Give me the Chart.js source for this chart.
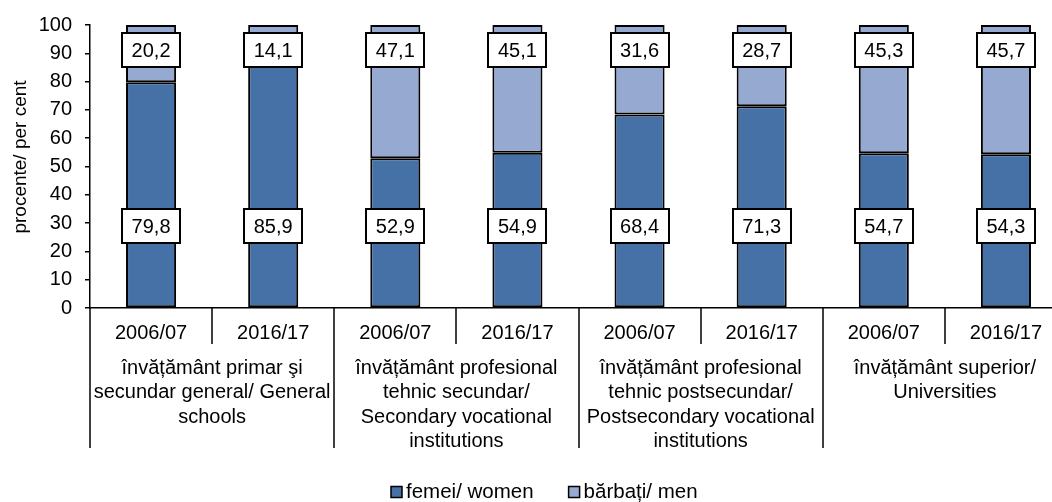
<!DOCTYPE html>
<html>
<head>
<meta charset="utf-8">
<script src="https://cdn.jsdelivr.net/npm/chart.js@4"></script>
<style>
  html, body { margin: 0; padding: 0; background: #fff; overflow: hidden; }
  #wrap { width: 1052px; height: 502px; overflow: hidden; position: relative; }
  #chart { display: block; }
</style>
</head>
<body>
<div id="wrap"><canvas id="chart" width="1068" height="502"></canvas></div>
<script>
const years = ["2006/07", "2016/17", "2006/07", "2016/17", "2006/07", "2016/17", "2006/07", "2016/17"];
const groupLabels = [
    ["învățământ primar şi", "secundar general/ General", "schools"],
    ["învățământ profesional", "tehnic secundar/", "Secondary vocational", "institutions"],
    ["învățământ profesional", "tehnic postsecundar/", "Postsecondary vocational", "institutions"],
    ["învățământ superior/", "Universities"],
];
const women = [79.8, 85.9, 52.9, 54.9, 68.4, 71.3, 54.7, 54.3];
const men = [20.2, 14.1, 47.1, 45.1, 31.6, 28.7, 45.3, 45.7];
const yTicks = [0, 10, 20, 30, 40, 50, 60, 70, 80, 90, 100];

const FONT = '"Liberation Sans", Arial, sans-serif';
const womenColor = "#4671a6";
const menColor = "#95a9d1";

function fmt(v) {
    return v.toFixed(1).replace(".", ",");
}

// boxed value labels, women low in the bar, men near the top
const boxLabels = {
    id: "boxLabels",
    afterDatasetsDraw(chart) {
        const ctx = chart.ctx;
        const y = chart.scales.y;
        const anchors = [29, 91];
        ctx.save();
        ctx.font = "20px " + FONT;
        ctx.textAlign = "center";
        ctx.textBaseline = "middle";
        chart.data.datasets.forEach((ds, di) => {
            const meta = chart.getDatasetMeta(di);
            meta.data.forEach((bar, i) => {
                const txt = fmt(ds.data[i]);
                const w = Math.round(ctx.measureText(txt).width + 19);
                const h = 34;
                const cy = Math.round(y.getPixelForValue(anchors[di]));
                const bx = Math.round(bar.x - w / 2);
                ctx.fillStyle = "#fff";
                ctx.fillRect(bx, cy - h / 2, w, h);
                ctx.lineWidth = 2;
                ctx.strokeStyle = "#000";
                ctx.strokeRect(bx, cy - h / 2, w, h);
                ctx.fillStyle = "#000";
                ctx.fillText(txt, bar.x, cy + 1);
            });
        });
        ctx.restore();
    },
};

// group labels, separators, y title and legend
const decorations = {
    id: "decorations",
    afterDraw(chart) {
        const ctx = chart.ctx;
        const x = chart.scales.x;
        const area = chart.chartArea;
        const step = x.getPixelForValue(1) - x.getPixelForValue(0);
        ctx.save();
        ctx.strokeStyle = "#000";
        ctx.lineWidth = 1.5;
        for (let i = 0; i <= years.length; i++) {
            const px = Math.round(x.getPixelForValue(i) - step / 2);
            const bottom = i % 2 === 0 ? 448 : 344;
            ctx.beginPath();
            ctx.moveTo(px, area.bottom);
            ctx.lineTo(px, bottom);
            ctx.stroke();
        }

        ctx.fillStyle = "#000";
        ctx.font = "20px " + FONT;
        ctx.textAlign = "center";
        ctx.textBaseline = "middle";
        groupLabels.forEach((lines, g) => {
            const cx = (x.getPixelForValue(g * 2) + x.getPixelForValue(g * 2 + 1)) / 2;
            lines.forEach((line, k) => {
                ctx.fillText(line, cx, 368 + k * 24.5);
            });
        });

        ctx.save();
        ctx.translate(21, 157);
        ctx.rotate(-Math.PI / 2);
        ctx.font = "19px " + FONT;
        ctx.fillText("procente/ per cent", 0, 0);
        ctx.restore();

        const items = [
            { label: "femei/ women", color: womenColor },
            { label: "bărbați/ men", color: menColor },
        ];
        ctx.font = "20.5px " + FONT;
        const box = 11;
        const gap = 4;
        const itemGap = 35;
        const widths = items.map((it) => box + gap + ctx.measureText(it.label).width);
        const total = widths.reduce((a, b) => a + b, 0) + itemGap;
        let lx = Math.round(544 - total / 2);
        const ly = 492;
        ctx.textAlign = "left";
        items.forEach((it, i) => {
            ctx.fillStyle = it.color;
            ctx.fillRect(lx, ly - box / 2, box, box);
            ctx.lineWidth = 1.5;
            ctx.strokeRect(lx, ly - box / 2, box, box);
            ctx.fillStyle = "#000";
            ctx.fillText(it.label, lx + box + gap, ly);
            lx += widths[i] + itemGap;
        });
        ctx.restore();
    },
};

new Chart(document.getElementById("chart"), {
    type: "bar",
    data: {
        labels: years,
        datasets: [
            {
                label: "femei/ women",
                data: women,
                backgroundColor: womenColor,
                borderColor: "#000",
                borderWidth: 2,
                borderSkipped: false,
            },
            {
                label: "bărbați/ men",
                data: men,
                backgroundColor: menColor,
                borderColor: "#000",
                borderWidth: 2,
                borderSkipped: false,
            },
        ],
    },
    options: {
        responsive: false,
        animation: false,
        layout: { padding: { top: 23, right: 1, left: 0, bottom: 0 } },
        categoryPercentage: 1,
        barPercentage: 0.41,
        plugins: {
            legend: { display: false },
            tooltip: { enabled: false },
        },
        scales: {
            x: {
                stacked: true,
                grid: { display: false, drawTicks: false },
                border: { color: "#000", width: 1.5 },
                ticks: {
                    color: "#000",
                    font: { family: FONT, size: 20 },
                    padding: 13,
                    maxRotation: 0,
                    autoSkip: false,
                },
                afterFit(scale) {
                    scale.height = 194;
                },
            },
            y: {
                stacked: true,
                min: 0,
                max: 100,
                afterBuildTicks(scale) {
                    scale.ticks = yTicks.map((v) => ({ value: v }));
                },
                grid: {
                    display: true,
                    drawOnChartArea: false,
                    drawTicks: true,
                    tickLength: 5,
                    color: "#000",
                    lineWidth: 1.5,
                },
                border: { color: "#000", width: 1.5 },
                ticks: {
                    color: "#000",
                    font: { family: FONT, size: 20 },
                    padding: 13,
                },
                afterFit(scale) {
                    scale.width = 90;
                },
            },
        },
    },
    plugins: [boxLabels, decorations],
});
</script>
</body>
</html>
